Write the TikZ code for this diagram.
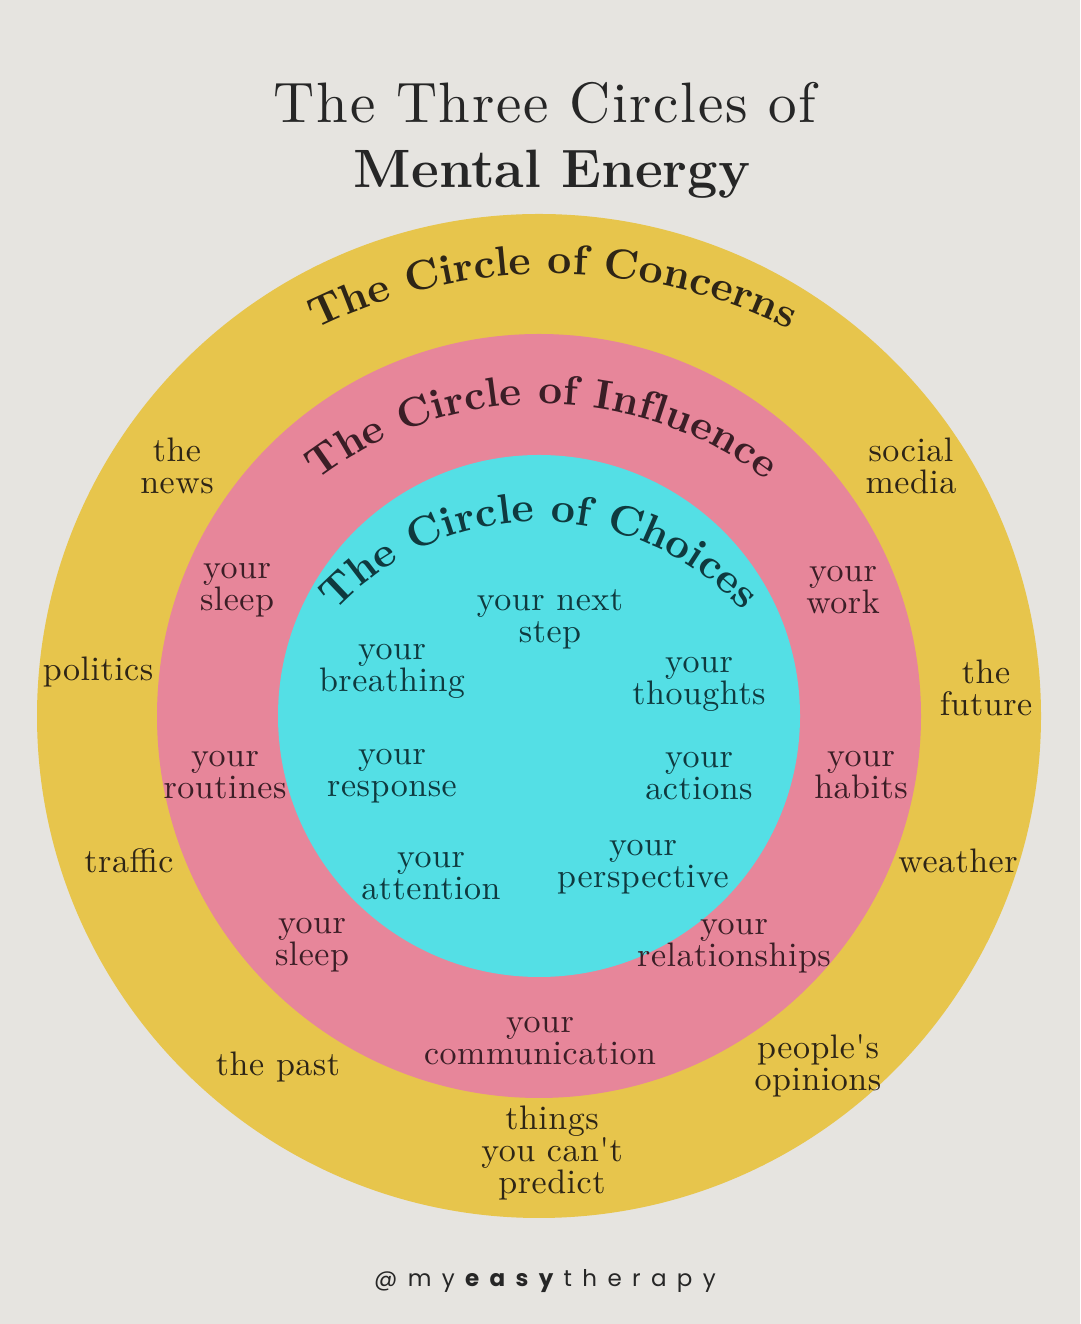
\documentclass[tikz,border=0pt]{standalone}
\usepackage{fontspec}
\setmainfont{lmroman10-regular}[Extension=.otf, BoldFont=lmroman10-bold, ItalicFont=lmroman10-italic, BoldItalicFont=lmroman10-bolditalic]
\newfontfamily\titlefont{lmroman10-regular}[Extension=.otf, LetterSpace=3]
\newfontfamily\titleboldfont{lmroman12-bold}[Extension=.otf]
\newfontfamily\lblfont{lmroman10-regular}[Extension=.otf, LetterSpace=1.5]
\newfontfamily\handlefont{Poppins}[LetterSpace=45]
\usetikzlibrary{decorations.text}
\definecolor{bg}{HTML}{E6E4E0}
\definecolor{cyel}{HTML}{E7C54C}
\definecolor{cpink}{HTML}{E7869A}
\definecolor{ccyan}{HTML}{54DFE5}
\definecolor{inky}{HTML}{2E2516}
\definecolor{inkp}{HTML}{3B1E26}
\definecolor{inkc}{HTML}{0F3A3F}
\definecolor{inkt}{HTML}{262626}
\tikzset{
  lbl/.style={align=center, inner sep=0pt, font=\lblfont\fontsize{34}{32}\selectfont},
  ylbl/.style={lbl, text=inky},
  plbl/.style={lbl, text=inkp},
  clbl/.style={lbl, text=inkc},
}
\begin{document}
\begin{tikzpicture}[x=1pt,y=1pt]
\fill[bg] (0,0) rectangle (1080,1324);
\useasboundingbox (0,0) rectangle (1080,1324);
% circles
\fill[cyel] (539,608) circle[radius=502];
\fill[cpink] (539,608) circle[radius=382];
\fill[ccyan] (539,608) circle[radius=261];
% title
\node[anchor=base, inner sep=0pt, text=inkt, font=\titlefont\fontsize{57}{60}\selectfont] (t1) at (545,1201) {The Three Circles of};
\node[anchor=base, inner sep=0pt, text=inkt, font=\titleboldfont\fontsize{54}{60}\selectfont] (t2) at (552,1136) {Mental Energy};
% curved titles
\path[decorate, decoration={text along path, text align=center,
  text={|\fontsize{42}{42}\selectfont\bfseries\color{inky}|The Circle of Concerns}}]
  ({553+534*cos(130)},{516+534*sin(130)}) arc[start angle=130, end angle=50, radius=534];
\path[decorate, decoration={text along path, text align=center,
  text={|\fontsize{41.5}{42}\selectfont\bfseries\color{inkp}|The Circle of Influence}}]
  ({542+368*cos(145)},{552+368*sin(145)}) arc[start angle=145, end angle=35, radius=368];
\path[decorate, decoration={text along path, text align=center,
  text={|\fontsize{42}{42}\selectfont\bfseries\color{inkc}|The Circle of Choices}}]
  ({539+278*cos(160)},{524+278*sin(160)}) arc[start angle=160, end angle=20, radius=278];
% yellow labels
\node[ylbl] (news) at (177,858) {the\\news};
\node[ylbl] (social) at (911,858) {social\\media};
\node[ylbl] (politics) at (98,652) {politics};
\node[ylbl] (future) at (986,636) {the\\future};
\node[ylbl] (traffic) at (129,463) {traffic};
\node[ylbl] (weather) at (958,463) {weather};
\node[ylbl] (past) at (278,257) {the past};
\node[ylbl] (opinions) at (818,258) {people's\\opinions};
\node[ylbl] (predict) at (552,171) {things\\you can't\\predict};
% pink labels
\node[plbl] (sleepa) at (237,734) {your\\sleep};
\node[plbl] (work) at (843,734) {your\\work};
\node[plbl] (routines) at (225,549) {your\\routines};
\node[plbl] (habits) at (861,549) {your\\habits};
\node[plbl] (sleepb) at (312,379) {your\\sleep};
\node[plbl] (relations) at (734,378) {your\\relationships};
\node[plbl] (comm) at (540,283) {your\\communication};
% cyan labels
\node[clbl] (nextstep) at (550,705) {your next\\step};
\node[clbl] (breathing) at (392,653) {your\\breathing};
\node[clbl] (thoughts) at (699,640) {your\\thoughts};
\node[clbl] (response) at (392,548) {your\\response};
\node[clbl] (actions) at (699,548) {your\\actions};
\node[clbl] (attention) at (431,448) {your\\attention};
\node[clbl] (perspective) at (643,457) {your\\perspective};
% handle
\node[anchor=base, inner sep=0pt, text=inkt, font=\handlefont\fontsize{23}{26}\selectfont] (handle) at (545,37) {@my\textbf{easy}therapy};
\end{tikzpicture}
\end{document}
